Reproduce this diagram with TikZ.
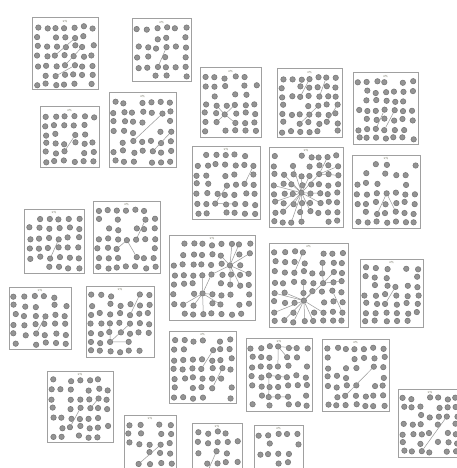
\documentclass[tikz,border=0pt]{standalone}
\tikzset{
 panelbox/.style={draw={rgb,255:red,160;green,160;blue,160}, line width=1pt, fill=white},
 pdot/.style={circle, inner sep=0pt, minimum size=5.4pt, fill={rgb,255:red,148;green,148;blue,148}, draw={rgb,255:red,120;green,120;blue,120}, line width=0.6pt},
 link/.style={draw={rgb,255:red,150;green,150;blue,150}, line width=0.5pt},
 lbl/.style={inner sep=0pt, font=\fontsize{2.8}{3}\selectfont, text={rgb,255:red,100;green,100;blue,80}},
}
\newcommand\drawpanel[7]{%
  \path[panelbox] (#2,#3) rectangle (#4,#5);
  \node[lbl] (#1-lbl) at ({(#2+#4)/2},{#3+3.2}) {2\%};
  \foreach \a/\b/\c/\d in {#7}{%
    \expandafter\gdef\csname keep@#1@\a@\b\endcsname{}%
    \expandafter\gdef\csname keep@#1@\c@\d\endcsname{}}%
  \pgfmathtruncatemacro\nc{(#4-#2-11)/8.8+1}%
  \pgfmathtruncatemacro\nr{(#5-#3-15)/8.8+1}%
  \pgfmathsetmacro\sx{(#4-#2-11)/(\nc-1)}%
  \pgfmathsetmacro\sy{(#5-#3-15)/(\nr-1)}%
  \pgfmathsetseed{#6}%
  \foreach \i in {1,...,\nc}{\foreach \j in {1,...,\nr}{%
    \pgfmathsetmacro\px{#2+5.5+(\i-1)*\sx+1.3*rand}%
    \pgfmathsetmacro\py{#3+9.5+(\j-1)*\sy+1.3*rand}%
    \pgfmathsetmacro\rr{rnd}%
    \ifcsname keep@#1@\i@\j\endcsname\def\dropit{0}\else\pgfmathtruncatemacro\dropit{\rr>0.84?1:0}\fi
    \ifnum\dropit=0 \node[pdot] (#1-\i-\j) at (\px,\py) {};\fi
  }}%
  \foreach \a/\b/\c/\d in {#7}{\ifnum\a>0 \draw[link] (#1-\a-\b) -- (#1-\c-\d);\fi}%
}
\begin{document}
\begin{tikzpicture}[x=1pt,y=-1pt]
\useasboundingbox (0,0) rectangle (457,468);
\clip (0,0) rectangle (457,468);
\drawpanel{p1}{32}{18}{98}{90}{11}{5/2/3/4, 6/3/4/5, 5/5/3/6}
\drawpanel{p2}{132}{19}{191}{82}{12}{4/3/3/5}
\drawpanel{p3}{200}{68}{261}{137}{13}{3/5/4/4, 3/5/2/6, 3/5/4/6, 3/5/2/4}
\drawpanel{p4}{277}{69}{342}{137}{14}{4/1/3/3, 6/1/5/3, 5/4/3/6, 7/4/6/6}
\drawpanel{p5}{353}{73}{418}{144}{15}{4/4/3/6, 5/4/4/6}
\drawpanel{p6}{40}{107}{99}{167}{16}{4/3/3/5}
\drawpanel{p7}{109}{93}{176}{167}{17}{6/2/3/5, 7/4/5/6}
\drawpanel{p8}{192}{146}{260}{219}{18}{4/4/3/6, 3/6/5/6, 7/2/6/4}
\drawpanel{p9}{269}{147}{343}{227}{19}{6/3/7/1, 6/3/8/2, 6/3/8/3, 4/5/1/4, 4/5/2/3, 4/5/3/2, 4/5/4/3, 4/5/5/3, 4/5/3/4, 4/5/6/5, 4/5/6/3, 4/5/6/6, 4/5/5/7, 4/5/4/8, 4/5/3/8, 4/5/2/7, 4/5/1/6, 4/5/3/6}
\drawpanel{p10}{352}{155}{420}{228}{20}{4/4/3/6, 4/4/5/6}
\drawpanel{p11}{24}{209}{84}{273}{21}{4/3/3/5}
\drawpanel{p12}{93}{201}{160}{273}{22}{4/4/3/5, 4/4/5/6, 6/2/5/4}
\drawpanel{p13}{169}{235}{255}{320}{23}{7/3/7/1, 7/3/8/1, 7/3/9/2, 7/3/9/4, 7/3/8/5, 7/3/7/5, 7/3/5/4, 7/3/6/2, 4/6/5/4, 4/6/4/4, 4/6/5/6, 4/6/6/7, 4/6/4/8, 4/6/3/7, 4/6/2/7}
\drawpanel{p14}{269}{243}{348}{327}{24}{6/4/6/2, 6/4/7/3, 6/4/8/4, 6/4/4/6, 4/6/1/5, 4/6/2/5, 4/6/1/7, 4/6/2/8, 4/6/3/8, 4/6/4/8, 4/6/5/8, 4/6/6/7, 4/6/5/5, 4/6/4/4, 3/3/4/1, 7/5/8/7}
\drawpanel{p15}{360}{259}{423}{327}{25}{4/3/3/5}
\drawpanel{p16}{9}{287}{71}{349}{26}{4/3/3/5}
\drawpanel{p17}{86}{286}{154}{357}{27}{3/6/3/4, 3/6/5/4, 3/6/5/6, 6/1/5/3}
\drawpanel{p18}{169}{331}{236}{403}{28}{5/2/4/4, 6/4/5/6}
\drawpanel{p19}{246}{338}{312}{411}{29}{4/1/6/1, 4/1/5/2, 4/1/4/3, 3/4/3/6, 3/6/5/6, 3/4/5/4}
\drawpanel{p20}{322}{339}{389}{411}{30}{6/3/3/6}
\drawpanel{p21}{47}{371}{113}{442}{31}{6/3/5/4, 4/4/3/6}
\drawpanel{p22}{398}{389}{462}{457}{32}{6/3/3/7}
\drawpanel{p23}{124}{415}{176}{478}{33}{4/3/2/5}
\drawpanel{p24}{192}{423}{242}{478}{34}{3/3/2/5}
\drawpanel{p25}{254}{425}{303}{478}{35}{0/0/0/0}
\end{tikzpicture}
\end{document}
